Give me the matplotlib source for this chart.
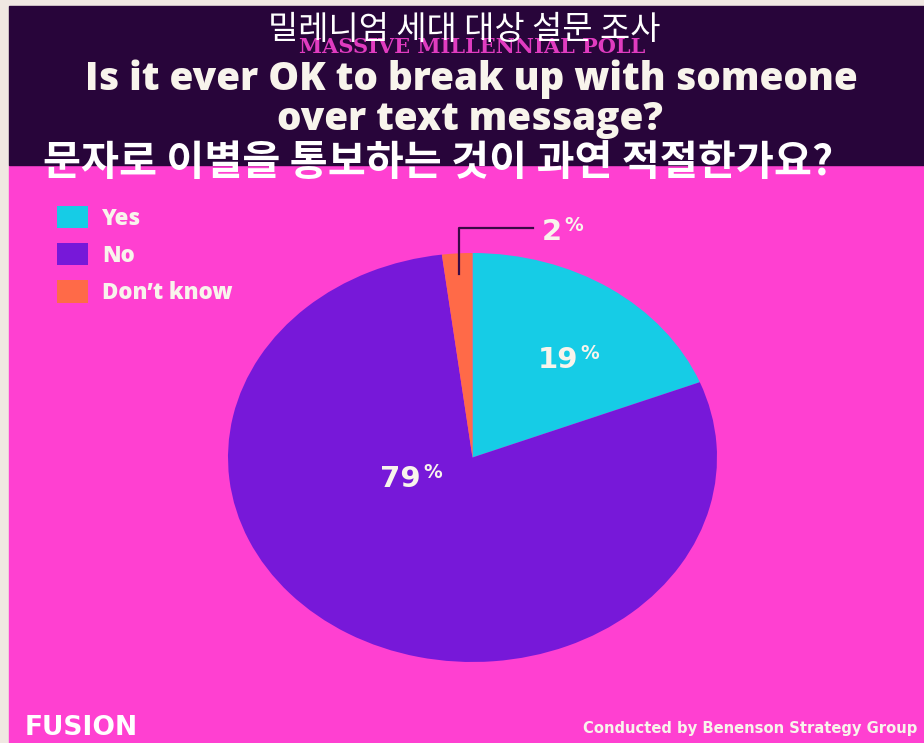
import matplotlib.pyplot as plt
import numpy as np
from matplotlib.patches import Rectangle

# data
labels = ['Yes', 'No', 'Don\u2019t know']
values = [19, 79, 2]
colors = ['#16CCE6', '#7718D9', '#FF6A48']

MAGENTA = '#FF40D1'
DARK = '#28053A'
BEIGE = '#F0E8E2'
WHITE = '#F8F4EC'

W, H = 924, 743
fig = plt.figure(figsize=(W / 100, H / 100), dpi=100)
fig.patch.set_facecolor(BEIGE)


def fx(px):
    return px / W


def fy(py):
    return 1 - py / H


def fit(t, width_px):
    # scale font so the text is width_px wide
    r = fig.canvas.get_renderer()
    w = t.get_window_extent(r).width
    t.set_fontsize(t.get_fontsize() * width_px / w)


# background blocks
fig.add_artist(Rectangle((fx(9), 0), 1 - fx(9), fy(165), color=MAGENTA,
                         transform=fig.transFigure, zorder=0))
fig.add_artist(Rectangle((fx(9), fy(165)), 1 - fx(9), fy(6) - fy(165), color=DARK,
                         transform=fig.transFigure, zorder=0))

kr = ['Noto Sans CJK KR', 'DejaVu Sans']

t = fig.text(fx(472), fy(47), 'MASSIVE MILLENNIAL POLL', ha='center', va='center',
             family='DejaVu Serif', weight='bold', color='#E03CC0', fontsize=12)
fit(t, 344)
t = fig.text(fx(464), fy(30), '밀레니엄 세대 대상 설문 조사', ha='center', va='center',
             family=kr, color='white', fontsize=22)
fit(t, 392)
t = fig.text(fx(471), fy(90), 'Is it ever OK to break up with someone', ha='center',
             va='baseline', family='Open Sans', weight='heavy', color=WHITE, fontsize=25)
fit(t, 772)
t = fig.text(fx(470), fy(130), 'over text message?', ha='center', va='baseline',
             family='Open Sans', weight='heavy', color=WHITE, fontsize=25)
fit(t, 386)
t = fig.text(fx(438), fy(163), '문자로 이별을 통보하는 것이 과연 적절한가요?', ha='center',
             va='center', family=kr, weight='bold', color='white', fontsize=27)
fit(t, 790)

# pie (stretched to an ellipse like the original)
ax = fig.add_axes([fx(228), fy(662), 489 / W, 409 / H])
wedges, _ = ax.pie(values, colors=colors, startangle=90, counterclock=False)
ax.set_aspect('auto')
ax.set_xlim(-1, 1)
ax.set_ylim(-1, 1)


def pct(x, y, num):
    ax.text(x, y, num, ha='right', va='baseline', family='DejaVu Sans', weight='bold',
            color=WHITE, fontsize=21)
    ax.annotate('%', (x, y), xytext=(1.5, 6.5), textcoords='offset points', ha='left',
                va='baseline', family='DejaVu Sans', weight='bold', color=WHITE,
                fontsize=13.5, annotation_clip=False)


pct(0.431, 0.438, '19')
pct(-0.211, -0.144, '79')
pct(0.366, 1.064, '2')

# leader line for the small slice
w = wedges[2]
mid = np.deg2rad((w.theta1 + w.theta2) / 2)
xm, ym = 0.9 * np.cos(mid), 0.9 * np.sin(mid)
ax.plot([xm, xm, 0.247], [ym, 1.122, 1.122], color='#3A0A45', lw=1.6, clip_on=False)

# legend
fig.legend(wedges, labels, loc='upper left', bbox_to_anchor=(fx(57), fy(206)),
           frameon=False, borderpad=0, borderaxespad=0, handlelength=1.4,
           handleheight=1.17, labelspacing=0.56, handletextpad=0.63,
           prop={'family': 'Open Sans', 'weight': 'heavy', 'size': 16},
           labelcolor=WHITE)

# footer
t = fig.text(fx(25), fy(735), 'FUSION', ha='left', va='baseline', family='DejaVu Sans',
             weight='bold', color='white', fontsize=20)
fit(t, 113)
t = fig.text(fx(917), fy(733), 'Conducted by Benenson Strategy Group', ha='right',
             va='baseline', family=['Liberation Sans Narrow', 'DejaVu Sans'],
             weight='bold', color=WHITE, fontsize=13)
fit(t, 332)

fig.savefig('out.png', dpi=100, facecolor=fig.get_facecolor())
